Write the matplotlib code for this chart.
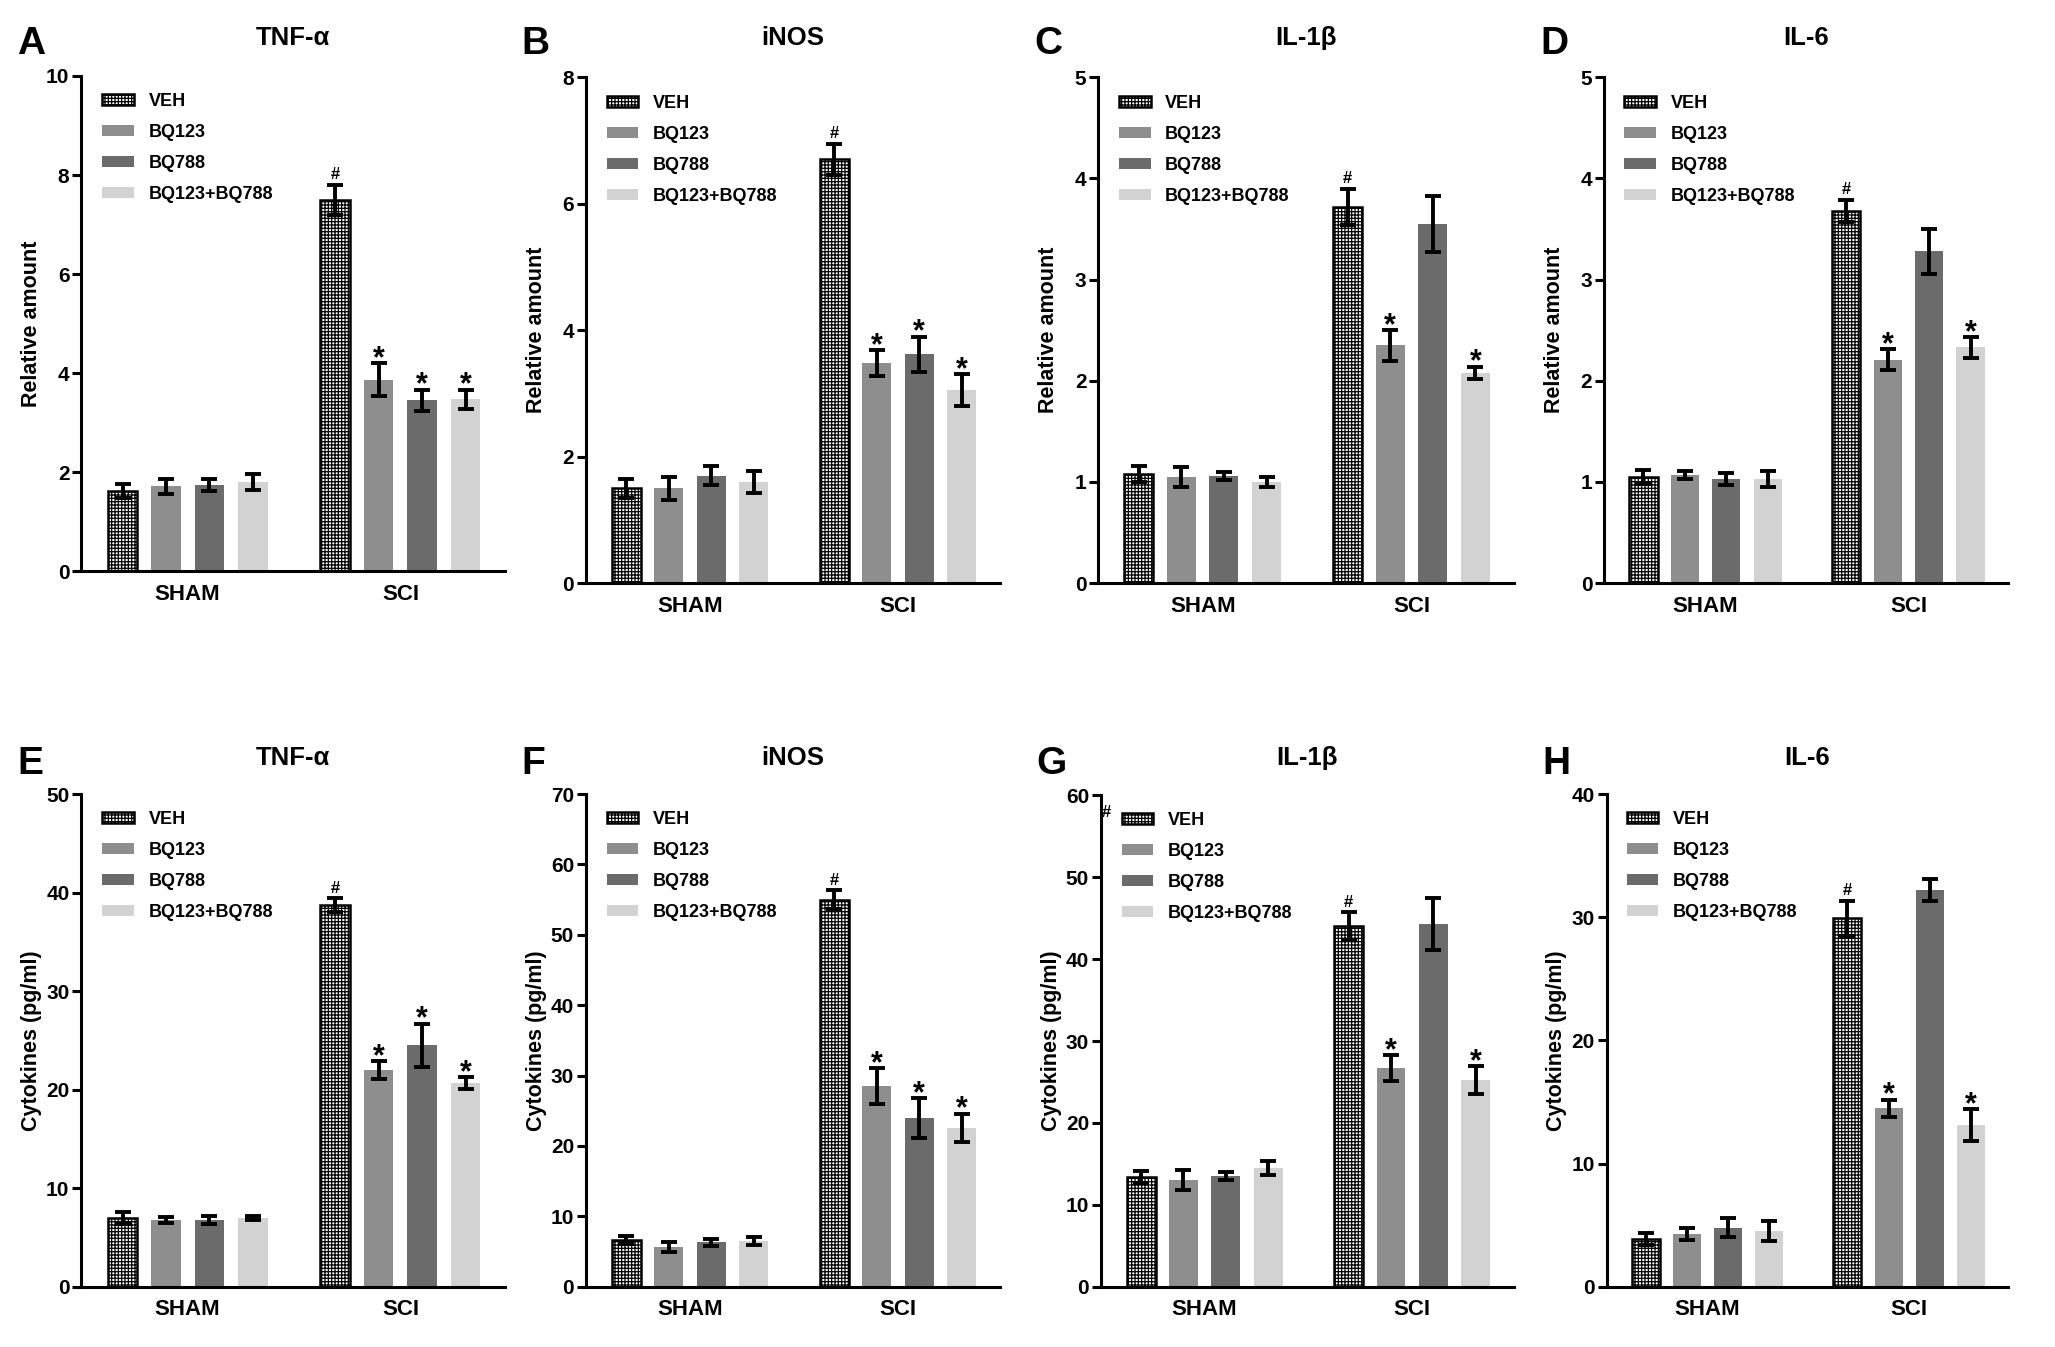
import numpy as np
import matplotlib.pyplot as plt

plt.rcParams['font.family'] = ['Liberation Sans', 'DejaVu Sans']
plt.rcParams['font.weight'] = 'bold'
plt.rcParams['axes.labelweight'] = 'bold'
plt.rcParams['hatch.linewidth'] = 0.9

groups = ['SHAM', 'SCI']
treatments = ['VEH', 'BQ123', 'BQ788', 'BQ123+BQ788']

# values ordered SHAM(VEH, BQ123, BQ788, combo), SCI(VEH, BQ123, BQ788, combo)
a_mean = [1.62, 1.72, 1.75, 1.80, 7.50, 3.87, 3.45, 3.47]
a_err = [0.14, 0.15, 0.12, 0.16, 0.30, 0.33, 0.22, 0.20]
b_mean = [1.50, 1.50, 1.70, 1.60, 6.70, 3.48, 3.62, 3.05]
b_err = [0.15, 0.18, 0.15, 0.17, 0.25, 0.20, 0.28, 0.25]
c_mean = [1.08, 1.05, 1.06, 1.00, 3.72, 2.35, 3.55, 2.08]
c_err = [0.08, 0.10, 0.04, 0.05, 0.18, 0.15, 0.28, 0.06]
d_mean = [1.05, 1.07, 1.03, 1.03, 3.68, 2.21, 3.28, 2.33]
d_err = [0.07, 0.04, 0.06, 0.08, 0.11, 0.10, 0.22, 0.10]
e_mean = [7.0, 6.8, 6.8, 7.0, 38.7, 22.0, 24.5, 20.7]
e_err = [0.6, 0.3, 0.4, 0.2, 0.7, 0.9, 2.2, 0.6]
f_mean = [6.6, 5.6, 6.3, 6.5, 55.0, 28.5, 24.0, 22.6]
f_err = [0.6, 0.7, 0.5, 0.6, 1.3, 2.6, 2.8, 2.0]
g_mean = [13.4, 13.0, 13.5, 14.5, 44.0, 26.7, 44.3, 25.2]
g_err = [0.7, 1.2, 0.5, 0.8, 1.7, 1.6, 3.2, 1.7]
h_mean = [3.9, 4.3, 4.8, 4.5, 29.9, 14.5, 32.2, 13.1]
h_err = [0.5, 0.5, 0.8, 0.8, 1.4, 0.7, 0.9, 1.3]

a_mark = ['', '', '', '', '#', '*', '*', '*']
b_mark = ['', '', '', '', '#', '*', '*', '*']
c_mark = ['', '', '', '', '#', '*', '', '*']
d_mark = ['', '', '', '', '#', '*', '', '*']
e_mark = ['', '', '', '', '#', '*', '*', '*']
f_mark = ['', '', '', '', '#', '*', '*', '*']
g_mark = ['', '', '', '', '#', '*', '', '*']
h_mark = ['', '', '', '', '#', '*', '', '*']

titles = ['TNF-\u03b1', 'iNOS', 'IL-1\u03b2', 'IL-6', 'TNF-\u03b1', 'iNOS', 'IL-1\u03b2', 'IL-6']
letters = ['A', 'B', 'C', 'D', 'E', 'F', 'G', 'H']

colors = ['white', '#8e8e8e', '#6b6b6b', '#d2d2d2']

# panel boxes in reference pixels (left, right, top, bottom) of a 1568x1028 view
W, H = 1568.0, 1028.0
panels = [
    (a_mean, a_err, a_mark, 10, 2, 'Relative amount', (62, 385, 58, 436)),
    (b_mean, b_err, b_mark, 8, 2, 'Relative amount', (447, 763, 59, 445)),
    (c_mean, c_err, c_mark, 5, 1, 'Relative amount', (838, 1155, 59, 445)),
    (d_mean, d_err, d_mark, 5, 1, 'Relative amount', (1224, 1532, 59, 445)),
    (e_mean, e_err, e_mark, 50, 10, 'Cytokines (pg/ml)', (62, 385, 606, 982)),
    (f_mean, f_err, f_mark, 70, 10, 'Cytokines (pg/ml)', (447, 763, 606, 982)),
    (g_mean, g_err, g_mark, 60, 10, 'Cytokines (pg/ml)', (840, 1155, 607, 982)),
    (h_mean, h_err, h_mark, 40, 10, 'Cytokines (pg/ml)', (1226, 1532, 606, 982)),
]

fig = plt.figure(figsize=(20.55, 13.47), dpi=100)

gap = 4.9
width = 0.68

for i, (mean, err, mark, ymax, step, ylab, box) in enumerate(panels):
    l, r, t, b = box
    ax = fig.add_axes([l / W, 1 - b / H, (r - l) / W, (b - t) / H])
    mean = np.array(mean)
    err = np.array(err)
    for k, name in enumerate(treatments):
        xs = np.array([k, k + gap])
        if k == 0:
            ax.bar(xs, mean[k::4], width, color='white', edgecolor='black',
                   linewidth=1.8, hatch='+++++', label=name, zorder=2)
        else:
            ax.bar(xs, mean[k::4], width, color=colors[k], edgecolor='none',
                   label=name, zorder=2)
        ax.errorbar(xs, mean[k::4], yerr=err[k::4], fmt='none', ecolor='black',
                    elinewidth=2.8, capsize=5.5, capthick=2.8, zorder=3)
        for j, x in enumerate(xs):
            m = mark[k + 4 * j]
            top = mean[k + 4 * j] + err[k + 4 * j]
            if m == '#':
                ax.annotate('#', (x, top), xytext=(0, 2),
                            textcoords='offset points', ha='center',
                            va='bottom', fontsize=12, fontweight='bold')
            elif m == '*':
                ax.annotate('*', (x, top), xytext=(0, -8),
                            textcoords='offset points', ha='center',
                            va='bottom', fontsize=22, fontweight='bold')

    ax.set_xlim(-0.95, 3 + gap + 0.9)
    ax.set_ylim(0, ymax)
    ax.set_yticks(np.arange(0, ymax + step / 2, step))
    ax.set_xticks([1.5, 1.5 + gap])
    ax.set_xticklabels(groups, fontsize=16)
    ax.tick_params(axis='x', length=0, pad=9)
    ax.tick_params(axis='y', length=6.5, width=2.2, pad=2, labelsize=15)
    for s in ['top', 'right']:
        ax.spines[s].set_visible(False)
    for s in ['left', 'bottom']:
        ax.spines[s].set_linewidth(2.2)
    ax.set_ylabel(ylab, fontsize=15.5)
    ax.yaxis.set_label_coords(-30.0 / (r - l), 0.5)

    ax.legend(loc='upper left', bbox_to_anchor=(0.05, 0.966), frameon=False,
              fontsize=13, handlelength=1.75, handleheight=0.55,
              handletextpad=0.8, labelspacing=0.78, borderpad=0,
              borderaxespad=0)

    # title and panel letter
    ybase = 34 if t < 300 else 584
    fig.text((l + r) / 2 / W, 1 - ybase / H, titles[i], ha='center',
             va='baseline', fontsize=18.5)
    fig.text((l - 49) / W, 1 - (ybase + 7) / H, letters[i], ha='left',
             va='baseline', fontsize=28)

    if letters[i] == 'G':
        ax.text(0.014, 0.965, '#', transform=ax.transAxes, ha='center',
                va='center', fontsize=12)

plt.savefig('out.png', dpi=100)
